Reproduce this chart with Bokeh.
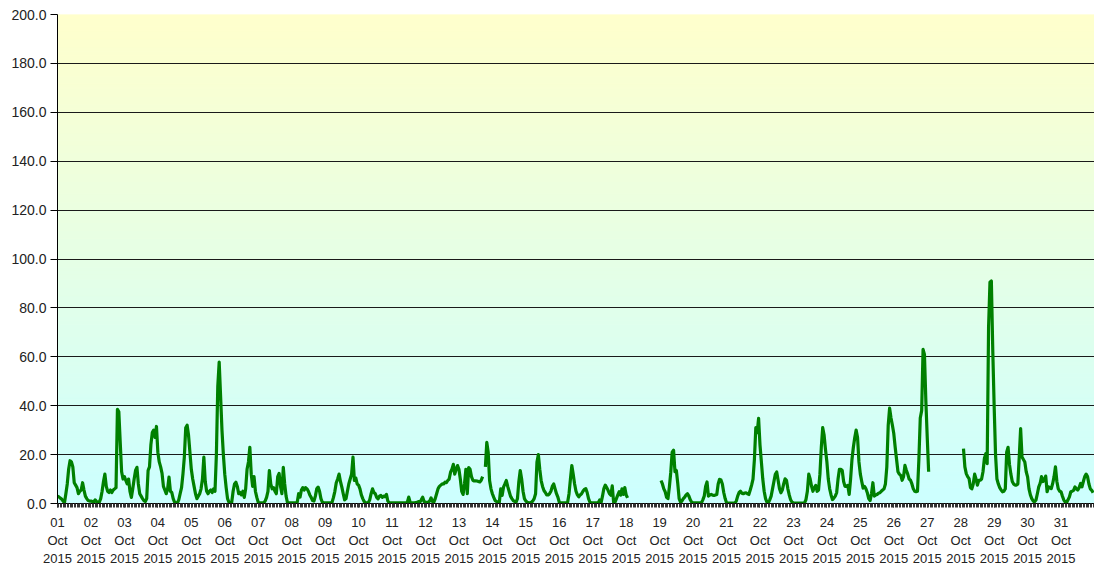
import numpy as np
from bokeh.plotting import figure
from bokeh.models import Range1d, FixedTicker, PrintfTickFormatter
from bokeh.embed import file_html
from bokeh.resources import INLINE

# ---- data: hourly values, October 2015 (None = missing) ----
oct01 = [3, 2.7, 2.2, 1.8, 1, 0.3, 4, 8, 14, 17.5, 17, 15, 8.5, 7.5, 6.5, 4, 5, 5.5, 8.5, 5.5, 3, 2, 1.2, 1]
oct02 = [1, 0.8, 0.5, 1.5, 0.8, 0.5, 0.6, 2, 5, 9, 12, 7, 5, 4.5, 5.5, 4.5, 5.5, 6, 6.5, 38.5, 37.5, 25, 13, 10]
oct03 = [11, 9.4, 8, 10, 5, 2.5, 6, 10, 13.5, 14.8, 8, 4, 3, 2, 1.2, 0.8, 2, 13.5, 15, 24, 29, 30, 27, 31.5]
oct04 = [21, 17, 15, 12.3, 7, 5.5, 4, 6, 10.8, 5, 4.5, 2, 0.5, 0.3, 0.2, 1.5, 4, 6.5, 12, 19, 31, 32, 28, 21]
oct05 = [14, 10, 7, 4, 2, 3, 4, 6, 10, 19, 9, 5, 4, 5, 5.5, 4.5, 6, 5, 20, 48, 57.8, 44, 30, 20]
oct06 = [12, 6.5, 2, 0.5, 0.3, 0.5, 5, 8, 8.7, 7, 4, 4.5, 3.5, 5, 2.5, 6, 14, 17, 23, 12, 7, 11, 5, 2.5]
oct07 = [0.5, 0.3, 0.3, 0.3, 0.3, 1, 2.5, 5, 13.5, 8, 6, 6.5, 5, 4, 11, 12.3, 7, 4, 14.8, 8, 3, 0.3, 0.3, 0.3]
oct08 = [0.3, 0.3, 0.3, 0.3, 0.5, 4, 2.6, 5.5, 6.5, 5.5, 6.5, 6, 5, 3.5, 2.5, 1.2, 1, 3, 6, 6.7, 5, 2, 0.5, 0.3]
oct09 = [0.3, 0.3, 0.3, 0.3, 0.3, 0.5, 2.5, 5, 8.5, 10, 12, 9, 6.7, 4, 1.5, 2, 5, 8, 10, 12, 19, 9.4, 10.5, 8]
oct10 = [7.5, 6, 3.5, 2, 0.8, 0.3, 0.3, 0.3, 1.5, 4, 6, 4.5, 4, 2.5, 1.9, 3, 3.3, 2.5, 3, 2.8, 3.7, 1, 0.3, 0.3]
oct11 = [0.3, 0.3, 0.3, 0.3, 0.3, 0.3, 0.3, 0.3, 0.3, 0.3, 0.3, 0.5, 2.6, 0.5, 0.3, 0.3, 0.3, 0.4, 0.5, 0.8, 0.6, 1.5, 2.6, 0.8]
oct12 = [0.6, 0.5, 0.5, 1, 2.3, 0.8, 0.5, 2, 4, 6, 7, 7.5, 8, 8, 8.7, 8.5, 9.4, 10, 12.8, 14, 16, 12, 14, 15.5]
oct13 = [14, 10, 5, 3.7, 8, 14, 4, 14.7, 14, 11, 9.5, 9.2, 9.3, 9.2, 9, 8.8, 9.5, 11, None, 15, 25, 21, 9.4, 6]
oct14 = [4, 2.5, 1.2, 0.8, 0.3, 0.5, 6, 3.3, 6.7, 8, 9.4, 7, 5, 3, 2, 1.2, 0.8, 0.5, 2, 9, 13.5, 10, 5, 2]
oct15 = [1, 0.5, 0.3, 0.3, 0.5, 1, 2, 4, 17, 20, 14, 9.4, 7, 5.3, 4.5, 3.5, 3.5, 4, 5, 7, 8, 6, 4, 2.6]
oct16 = [0.5, 0.3, 0.3, 0.3, 0.3, 0.3, 0.5, 4, 10, 15.5, 12, 8, 5, 3.5, 2.7, 3.5, 4, 5, 5.8, 6.1, 4.5, 2, 0.5, 0.3]
oct17 = [0.3, 0.3, 0.3, 0.3, 0.3, 1.5, 0.3, 3, 6.1, 7.5, 6.5, 5.4, 4, 3.4, 7.2, 0.5, 0.5, 2, 3.5, 4.8, 3.4, 6, 3.7, 6.5]
oct18 = [3.5, 2.3, None, None, None, None, None, None, None, None, None, None,
         None, None, None, None, None, None, None, None, None, None, None, None]
oct19 = [None, 9.4, 8, 6, 4.8, 2.5, 2, 6.8, 12.8, 21, 21.8, 13, 13.5, 8.2, 2, 0.5, 1, 2, 2.6, 3.5, 4, 3, 1.5, 0.5]
oct20 = [0.3, 0.3, 0.3, 0.3, 0.3, 0.3, 0.3, 1.5, 3, 7, 8.8, 3, 3.5, 3.7, 3.4, 3.3, 3.5, 3.7, 8, 9.9, 9.6, 8, 4.5, 2]
oct21 = [0.3, 0.2, 0.2, 0.2, 0.2, 0.2, 0.2, 1, 3, 4.5, 5, 4.2, 4, 4.3, 4.4, 4, 3.7, 5.5, 7.5, 10, 18, 31, 29, 34.8]
oct22 = [24, 17, 10, 5, 2, 0.5, 0.3, 1.5, 3, 6, 9, 11.9, 12.9, 9.5, 6, 4.4, 5.5, 8, 10.1, 9.5, 6, 3.5, 1.5, 0.5]
oct23 = [0.3, 0.2, 0.2, 0.2, 0.2, 0.2, 0.2, 0.2, 0.3, 1.6, 5, 12, 10, 7, 5, 6.5, 7.4, 5, 5.5, 12, 23, 31, 28, 22]
oct24 = [17, 10, 6, 3.5, 1.6, 2.2, 3, 4.4, 10, 14, 14, 13.5, 9, 7, 7, 7.4, 3.7, 10, 18, 23, 27, 30, 27, 17]
oct25 = [12, 9, 6.3, 7, 6, 4.4, 2, 1.2, 4, 8.5, 3, 3.5, 3.7, 4.2, 4.4, 5, 5.5, 6, 8, 15, 32, 39, 35, 32]
oct26 = [28.6, 23, 18, 13, 12, 11.5, 9.5, 11, 15.6, 13.6, 12, 10, 9.5, 8, 6, 5, 4.8, 5, 18, 35, 38, 63, 61, 42]
oct27 = [27, 13, None, None, None, None, None, None, None, None, None, None,
         None, None, None, None, None, None, None, None, None, None, None, None]
oct28 = [None, None, 22.4, 15, 12.2, 11, 10.2, 6.5, 6, 8, 12, 10, 7.5, 9.5, 9.5, 10, 13, 18.4, 20.4, 16.3, 72, 90.5, 91, 63]
oct29 = [40, 20, 10, 8, 6.5, 5.5, 4.8, 5, 6, 21, 23, 16, 12, 9, 8, 7.5, 7.5, 8, 19, 30.6, 19, 18, 17, 13]
oct30 = [10.9, 6, 3.5, 2, 1, 0.7, 1.4, 4, 6.8, 8.2, 11, 9, 9.5, 11.2, 4.8, 6.8, 6.5, 6.1, 8.2, 11, 15, 9, 6, 5]
oct31 = [4.8, 3, 1.4, 0.6, 0.4, 1.5, 2.7, 4.8, 5, 5.4, 6.8, 6, 5.5, 6.5, 8.2, 6.8, 9, 11, 12, 11, 8, 6, 5.4, 4.4]

days = list(range(1, 32))
day_labels = [f"{d:02d}\nOct\n2015" for d in days]
y_ticks = [0, 20, 40, 60, 80, 100, 120, 140, 160, 180, 200]

hourly_by_day = [oct01, oct02, oct03, oct04, oct05, oct06, oct07, oct08, oct09, oct10,
                 oct11, oct12, oct13, oct14, oct15, oct16, oct17, oct18, oct19, oct20,
                 oct21, oct22, oct23, oct24, oct25, oct26, oct27, oct28, oct29, oct30, oct31]

values = np.array([np.nan if v is None else v for day in hourly_by_day for v in day], dtype=float)
hours = np.arange(len(values))
n_hours = 24 * len(days)

p = figure(frame_width=1037, frame_height=489,
           x_range=Range1d(0, n_hours), y_range=Range1d(0, 200),
           output_backend="svg", toolbar_location=None,
           min_border_left=57, min_border_right=0, min_border_top=14, min_border_bottom=0,
           background_fill_color="white", border_fill_color="white",
           outline_line_color=None)

# vertical gradient background (yellow top -> cyan bottom)
n_strips = 120
edges = np.linspace(0, 200, n_strips + 1)
mids = (edges[:-1] + edges[1:]) / 2 / 200.0
cols = ["#%02x%02x%02x" % (int(round(204 + 51 * t)), 255, int(round(255 - 51 * t))) for t in mids]
p.quad(left=0, right=n_hours, bottom=edges[:-1], top=edges[1:],
       fill_color=cols, line_color=cols, line_width=1, level="image")

# the series
p.line(hours, values, line_color="#008000", line_width=3.2, line_join="round")

# y axis
p.yaxis.ticker = FixedTicker(ticks=y_ticks)
p.yaxis.formatter = PrintfTickFormatter(format="%.1f")
p.yaxis.major_label_text_font = "Liberation Sans"
p.yaxis.major_label_text_font_size = "14px"
p.yaxis.major_label_text_color = "#222222"
p.yaxis.major_tick_out = 7
p.yaxis.major_tick_in = 0
p.yaxis.minor_tick_line_color = None
p.yaxis.major_label_standoff = 4
p.yaxis.axis_line_color = "black"
p.yaxis.major_tick_line_color = "black"

# x axis
p.xaxis.ticker = FixedTicker(ticks=[24 * i for i in range(len(days))],
                             minor_ticks=list(range(0, n_hours + 1)))
p.xaxis.major_label_overrides = {24 * i: lab for i, lab in enumerate(day_labels)}
p.xaxis.major_label_text_font = "Liberation Sans"
p.xaxis.major_label_text_font_size = "13px"
p.xaxis.major_label_text_color = "#222222"
p.xaxis.major_label_text_line_height = 1.2
p.xaxis.major_label_standoff = 7
p.xaxis.major_tick_out = 4
p.xaxis.major_tick_in = 0
p.xaxis.minor_tick_out = 4
p.xaxis.minor_tick_in = 0
p.xaxis.minor_tick_line_color = "#333333"
p.xaxis.major_tick_line_color = "#333333"
p.xaxis.axis_line_color = "black"

p.xgrid.grid_line_color = None
p.ygrid.grid_line_color = "#1a1a1a"
p.ygrid.grid_line_width = 1

open("out.html", "w").write(file_html(p, INLINE))
